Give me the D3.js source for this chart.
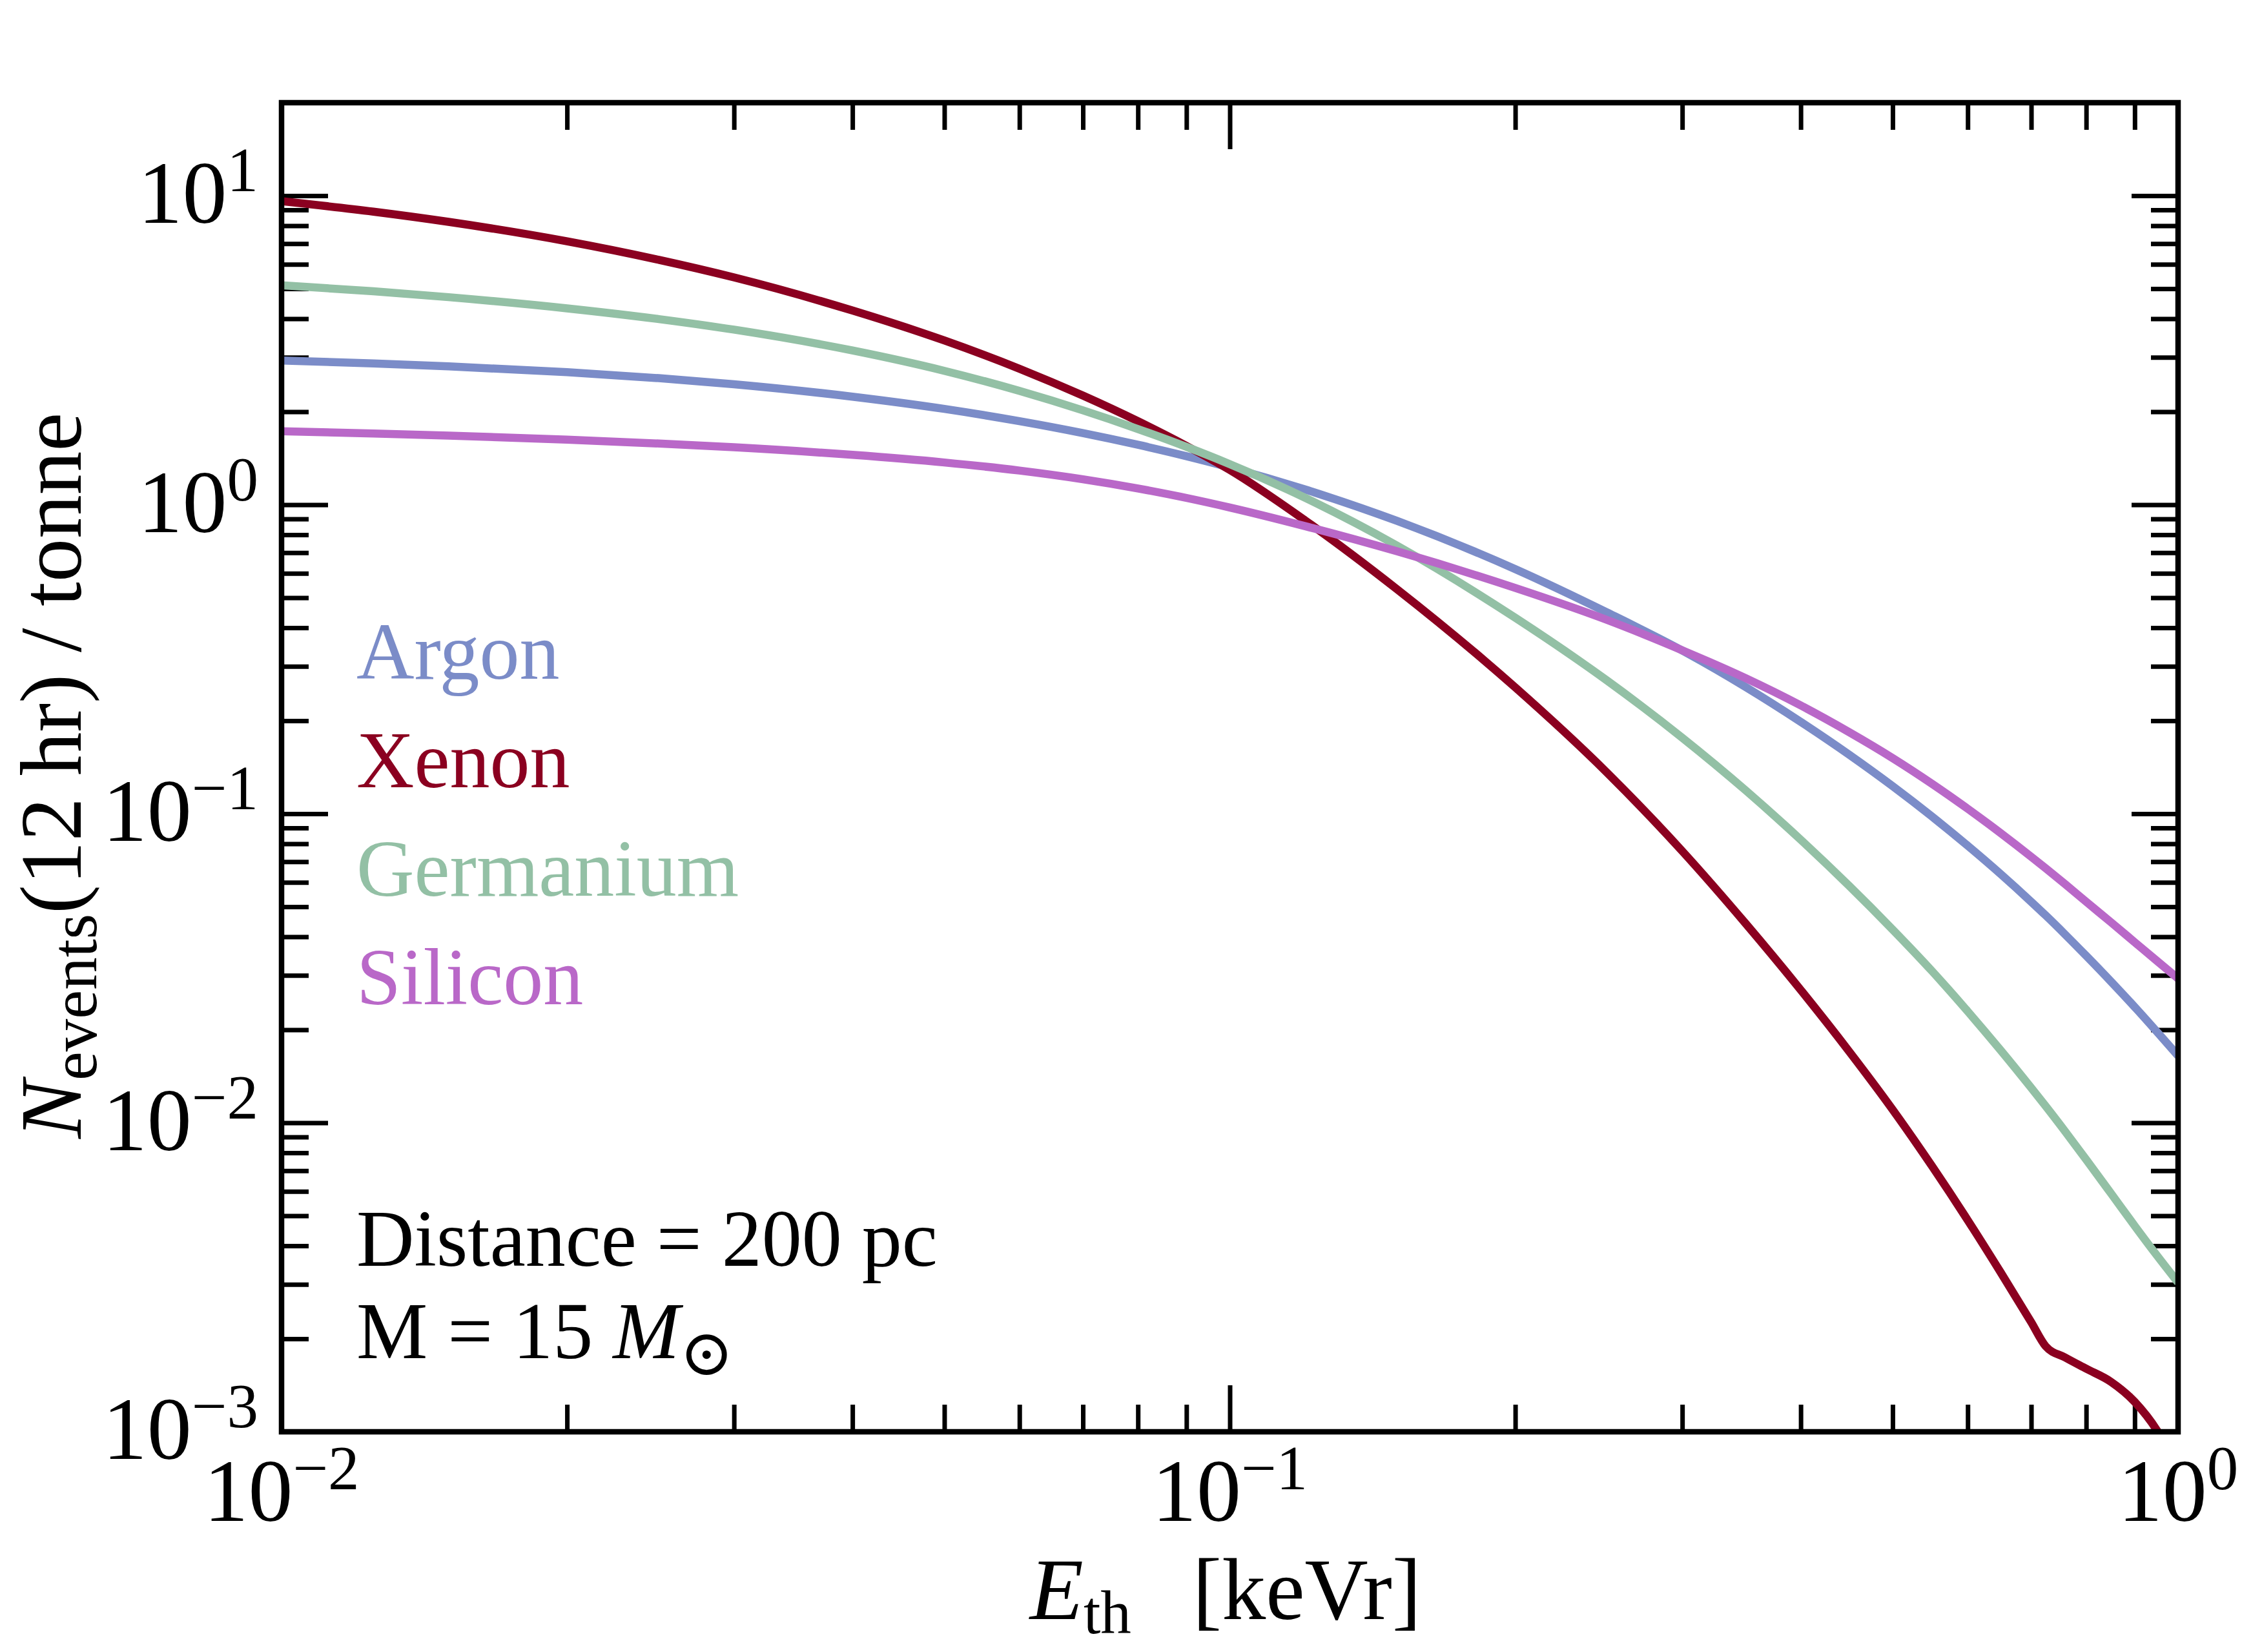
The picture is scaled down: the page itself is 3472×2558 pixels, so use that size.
<!DOCTYPE html>
<html>
<head>
<meta charset="utf-8">
<script src="https://cdn.jsdelivr.net/npm/d3@7"></script>
<style>
  body { margin: 0; background: #fff; }
  svg { display: block; }
  text { font-family: "Liberation Serif", "Times New Roman", serif; fill: #000; }
</style>
</head>
<body>
<div id="chart"></div>
<script>
// threshold energy [keVr]
var energy = [0.01, 0.0125, 0.015, 0.02, 0.025, 0.03, 0.04, 0.05, 0.06, 0.07, 0.08, 0.09,
              0.1, 0.12, 0.15, 0.2, 0.25, 0.3, 0.35, 0.4, 0.45, 0.5, 0.55, 0.6, 0.65, 0.7,
              0.725, 0.76, 0.8, 0.85, 0.9, 0.95, 1.0];

// N_events (12 hr) / tonne
var argon = [2.93, 2.866, 2.804, 2.685, 2.568, 2.454, 2.237, 2.042, 1.864, 1.705, 1.563, 1.436,
             1.321, 1.121, 0.887, 0.619, 0.448, 0.3375, 0.257, 0.1983, 0.1552, 0.1228, 0.098, 0.0788, 0.0638, 0.0519,
             0.0469, 0.0407, 0.0347, 0.0286, 0.0237, 0.0197, 0.01647];
var xenon = [9.6, 8.88, 8.23, 7.12, 6.20, 5.44, 4.25, 3.40, 2.755, 2.255, 1.863, 1.55,
             1.296, 0.891, 0.5335, 0.2563, 0.1357, 0.0757, 0.0441, 0.0269, 0.0170, 0.01103, 0.00725, 0.00484, 0.00328, 0.002263,
             0.001892, 0.00174, 0.0016, 0.00145, 0.00125, 0.00101, 0.00075];
var germanium = [5.13, 4.906, 4.696, 4.32, 3.987, 3.686, 3.156, 2.712, 2.335, 2.020, 1.758, 1.539,
                 1.353, 1.054, 0.738, 0.4307, 0.2696, 0.1762, 0.119, 0.0824, 0.0584, 0.0422, 0.031, 0.02294, 0.01716, 0.01297,
                 0.01132, 0.00938, 0.0076, 0.0059, 0.00464, 0.00372, 0.00304];
var silicon = [1.73, 1.701, 1.674, 1.624, 1.578, 1.534, 1.45, 1.37, 1.29, 1.209, 1.129, 1.052,
               0.9795, 0.8527, 0.7069, 0.5378, 0.4236, 0.338, 0.2745, 0.2241, 0.1836, 0.1514, 0.1251, 0.1038, 0.0866, 0.0726,
               0.0666, 0.0592, 0.0519, 0.0445, 0.0384, 0.0334, 0.0293];

var seriesNames = ["Argon", "Xenon", "Germanium", "Silicon"];
var seriesValues = [argon, xenon, germanium, silicon];
var seriesColors = ["#7b8cc8", "#8b0020", "#93c0a5", "#b968c8"];

// tick labels (powers of ten)
var xTickExponents = [-2, -1, 0];
var yTickExponents = [-3, -2, -1, 0, 1];

var annotationLines = ["Distance = 200 pc", "M = 15 "];

var width = 3472, height = 2558;
var margin = {top: 159, right: 99, bottom: 341, left: 436};

var svg = d3.select("#chart")
  .append("svg")
    .attr("width", width)
    .attr("height", height);

var x = d3.scaleLog()
  .domain([0.01, 1])
  .range([margin.left, width - margin.right]);

var y = d3.scaleLog()
  .domain([1e-3, 20])
  .range([height - margin.bottom, margin.top]);

var x0 = x.range()[0], x1 = x.range()[1];
var y0 = y.range()[0], y1 = y.range()[1];

// tick positions
var xMajor = xTickExponents.map(function(e) { return Math.pow(10, e); });
var yMajor = yTickExponents.map(function(e) { return Math.pow(10, e); });
var xMinor = [], yMinor = [];
for (var e = -2; e < 0; e++) {
  for (var m = 2; m <= 9; m++) xMinor.push(m * Math.pow(10, e));
}
for (var e = -3; e <= 1; e++) {
  for (var m = 2; m <= 9; m++) {
    var v = m * Math.pow(10, e);
    if (v <= 20) yMinor.push(v);
  }
}

var majorLen = 72, minorLen = 42;

function addAxis(axisFn, pos, values, len, transform) {
  var g = svg.append("g")
    .attr("transform", transform)
    .call(axisFn(pos).tickValues(values).tickSize(-len).tickFormat(function() { return ""; }));
  g.select(".domain").remove();
  g.selectAll(".tick line").attr("stroke", "#000").attr("stroke-width", 7);
}

addAxis(d3.axisBottom, x, xMajor, majorLen, "translate(0," + y0 + ")");
addAxis(d3.axisBottom, x, xMinor, minorLen, "translate(0," + y0 + ")");
addAxis(d3.axisTop, x, xMajor, majorLen, "translate(0," + y1 + ")");
addAxis(d3.axisTop, x, xMinor, minorLen, "translate(0," + y1 + ")");
addAxis(d3.axisLeft, y, yMajor, majorLen, "translate(" + x0 + ",0)");
addAxis(d3.axisLeft, y, yMinor, minorLen, "translate(" + x0 + ",0)");
addAxis(d3.axisRight, y, yMajor, majorLen, "translate(" + x1 + ",0)");
addAxis(d3.axisRight, y, yMinor, minorLen, "translate(" + x1 + ",0)");

// curves
svg.append("clipPath")
    .attr("id", "plotclip")
  .append("rect")
    .attr("x", x0)
    .attr("y", y1)
    .attr("width", x1 - x0)
    .attr("height", y0 - y1);

var line = d3.line()
  .x(function(d) { return x(d[0]); })
  .y(function(d) { return y(d[1]); })
  .curve(d3.curveMonotoneX);

seriesValues.forEach(function(vals, i) {
  svg.append("path")
    .datum(energy.map(function(E, j) { return [E, vals[j]]; }))
    .attr("clip-path", "url(#plotclip)")
    .attr("fill", "none")
    .attr("stroke", seriesColors[i])
    .attr("stroke-width", 12.5)
    .attr("stroke-linejoin", "round")
    .attr("d", line);
});

// frame
svg.append("rect")
  .attr("x", x0)
  .attr("y", y1)
  .attr("width", x1 - x0)
  .attr("height", y0 - y1)
  .attr("fill", "none")
  .attr("stroke", "#000")
  .attr("stroke-width", 8.5);

// tick labels
function powerLabel(sel, e) {
  sel.append("tspan").text("10");
  sel.append("tspan")
    .attr("font-size", 97)
    .attr("dy", -49)
    .text(e < 0 ? "\u2212" + (-e) : String(e));
}

xTickExponents.forEach(function(e) {
  svg.append("text")
    .attr("x", x(Math.pow(10, e)))
    .attr("y", 2355)
    .attr("text-anchor", "middle")
    .attr("font-size", 138)
    .call(powerLabel, e);
});

yTickExponents.forEach(function(e) {
  svg.append("text")
    .attr("x", 400)
    .attr("y", y(Math.pow(10, e)) + 42)
    .attr("text-anchor", "end")
    .attr("font-size", 138)
    .call(powerLabel, e);
});

// axis titles
var xt = svg.append("text")
  .attr("x", 1898)
  .attr("y", 2507)
  .attr("text-anchor", "middle")
  .attr("font-size", 136);
xt.append("tspan").attr("font-style", "italic").text("E");
xt.append("tspan").attr("font-size", 95).attr("dy", 22).text("th");
xt.append("tspan").attr("dy", -22).attr("dx", 95).text("[keVr]");

var yt = svg.append("text")
  .attr("transform", "translate(125,1201) rotate(-90)")
  .attr("text-anchor", "middle")
  .attr("font-size", 135);
yt.append("tspan").attr("font-style", "italic").text("N");
yt.append("tspan").attr("font-size", 101).attr("dy", 24).text("events");
yt.append("tspan").attr("dy", -24).text("(12 hr) / tonne");

// legend
seriesNames.forEach(function(name, i) {
  svg.append("text")
    .attr("x", 552)
    .attr("y", 1051 + i * 168)
    .attr("font-size", 124)
    .style("fill", seriesColors[i])
    .text(name);
});

// annotation
svg.append("text")
  .attr("x", 552)
  .attr("y", 1960)
  .attr("font-size", 124)
  .text(annotationLines[0]);

var ann = svg.append("text")
  .attr("x", 552)
  .attr("y", 2103)
  .attr("font-size", 124);
ann.append("tspan").text(annotationLines[1]);
ann.append("tspan").attr("font-style", "italic").text("M");
ann.append("tspan")
  .attr("font-size", 100)
  .attr("dy", 26)
  .style("font-family", "'DejaVu Serif', 'DejaVu Sans', serif")
  .text("\u2299");
</script>
</body>
</html>
